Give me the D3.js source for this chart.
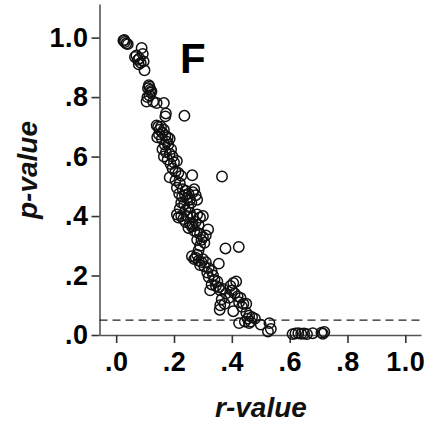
<!DOCTYPE html>
<html>
<head>
<meta charset="utf-8">
<script src="https://cdn.jsdelivr.net/npm/d3@7"></script>
<style>
  html, body { margin: 0; padding: 0; background: #fff; }
  svg { display: block; }
  text { font-family: "Liberation Sans", Arial, sans-serif; }
</style>
</head>
<body>
<svg id="chart" width="445" height="426"></svg>
<script>
// ---- data ----
const rValues = [
  0.025,0.030,0.035,0.040,0.028,
  0.065,0.070,0.075,0.080,0.085,0.088,0.092,0.095,0.098,0.078,
  0.110,0.115,0.118,0.120,0.113,0.122,0.108,0.115,0.105,0.128,0.140,
  0.165,0.172,0.170,0.236,
  0.140,0.145,0.150,0.155,0.148,0.142,0.160,0.165,0.170,0.178,0.175,0.185,0.158,0.168,0.180,0.190,0.185,0.172,0.160,0.165,0.195,0.178,0.188,
  0.200,0.210,0.195,0.205,0.215,0.225,0.185,0.263,0.366,0.205,0.220,0.210,0.230,0.240,0.250,0.218,0.228,0.238,0.245,0.255,0.265,0.270,0.275,0.280,0.225,0.235,0.250,0.260,0.220,0.240,0.210,0.225,0.215,0.232,0.245,0.255,0.265,0.280,0.290,0.300,
  0.240,0.255,0.265,0.250,0.262,0.275,0.285,0.270,0.280,0.290,0.300,0.310,0.318,0.295,0.305,0.280,0.290,0.285,0.280,0.275,0.262,0.270,0.285,0.295,0.300,0.290,0.305,0.310,0.320,0.330,0.315,0.378,0.424,0.355,
  0.320,0.335,0.340,0.350,0.345,0.355,0.330,0.325,0.360,0.370,0.380,0.395,0.405,0.415,0.400,0.410,0.420,0.430,0.425,0.440,0.450,0.435,0.390,0.365,0.360,0.358,0.375,0.405,0.450,0.460,0.455,0.470,0.465,0.480,0.445,0.425,0.460,0.500,0.530,0.535,0.525,
  0.610,0.620,0.630,0.640,0.650,0.660,0.680,0.710,0.715,0.720
];
const pValues = [
  0.990,0.985,0.980,0.978,0.992,
  0.935,0.940,0.925,0.930,0.915,0.965,0.945,0.920,0.890,0.910,
  0.830,0.835,0.825,0.815,0.840,0.820,0.800,0.805,0.785,0.785,0.780,
  0.780,0.745,0.735,0.737,
  0.705,0.700,0.690,0.700,0.675,0.665,0.680,0.690,0.670,0.665,0.650,0.660,0.660,0.640,0.640,0.625,0.610,0.615,0.625,0.600,0.600,0.590,0.575,
  0.580,0.585,0.560,0.550,0.545,0.535,0.530,0.537,0.533,0.520,0.510,0.495,0.490,0.485,0.475,0.475,0.465,0.470,0.460,0.455,0.480,0.490,0.470,0.455,0.445,0.440,0.430,0.445,0.425,0.420,0.405,0.400,0.395,0.390,0.400,0.410,0.395,0.405,0.395,0.400,
  0.380,0.375,0.370,0.360,0.365,0.380,0.370,0.350,0.345,0.340,0.330,0.335,0.355,0.320,0.310,0.320,0.300,0.285,0.270,0.260,0.265,0.255,0.250,0.245,0.255,0.235,0.230,0.245,0.225,0.215,0.210,0.291,0.296,0.240,
  0.195,0.200,0.185,0.180,0.165,0.160,0.170,0.150,0.150,0.155,0.140,0.165,0.175,0.180,0.150,0.140,0.130,0.125,0.110,0.105,0.105,0.095,0.125,0.120,0.100,0.085,0.105,0.080,0.075,0.065,0.055,0.060,0.045,0.055,0.045,0.040,0.040,0.035,0.040,0.020,0.012,
  0.003,0.005,0.006,0.004,0.005,0.003,0.006,0.008,0.004,0.010
];
const xTickValues = [0, 0.2, 0.4, 0.6, 0.8, 1.0];
const yTickValues = [0, 0.2, 0.4, 0.6, 0.8, 1.0];
const xTickLabels = [".0", ".2", ".4", ".6", ".8", "1.0"];
const yTickLabels = [".0", ".2", ".4", ".6", ".8", "1.0"];
const thresholdP = 0.05;
const xTitle = "r-value";
const yTitle = "p-value";
const panelLabel = "F";

// ---- drawing ----
const svg = d3.select("#chart");
const x = d3.scaleLinear().domain([-0.0577, 1.0543]).range([99.5, 421]);
const y = d3.scaleLinear().domain([0, 1.113]).range([335, 4]);

const xAxis = d3.axisBottom(x)
  .tickValues(xTickValues)
  .tickFormat((d, i) => xTickLabels[i])
  .tickSizeInner(8).tickSizeOuter(0).tickPadding(9);
const yAxis = d3.axisLeft(y)
  .tickValues(yTickValues)
  .tickFormat((d, i) => yTickLabels[i])
  .tickSizeInner(8).tickSizeOuter(0).tickPadding(3);

const gx = svg.append("g").attr("transform", `translate(0,${y(0)})`).call(xAxis);
const gy = svg.append("g").attr("transform", `translate(${x.range()[0]},0)`).call(yAxis);

[gx, gy].forEach(g => {
  g.select(".domain").attr("stroke", "#555").attr("stroke-width", 1.6);
  g.selectAll(".tick line").attr("stroke", "#333").attr("stroke-width", 1.6);
  g.selectAll(".tick text")
    .attr("fill", "#000")
    .style("font-size", "27px")
    .style("font-weight", "bold")
    .style("letter-spacing", "0.5px");
});

// threshold line
svg.append("line")
  .attr("x1", x.range()[0]).attr("x2", x.range()[1])
  .attr("y1", y(thresholdP)).attr("y2", y(thresholdP))
  .attr("stroke", "#222").attr("stroke-width", 1.4)
  .attr("stroke-dasharray", "8,5");

// points
const pts = rValues.map((r, i) => ({ r, p: pValues[i] }));
svg.append("g").selectAll("circle").data(pts).join("circle")
  .attr("cx", d => x(d.r))
  .attr("cy", d => y(d.p))
  .attr("r", 5.2)
  .attr("fill", "none")
  .attr("stroke", "#111")
  .attr("stroke-width", 1.5);

// axis titles
svg.append("text")
  .attr("x", 261).attr("y", 417)
  .attr("text-anchor", "middle")
  .style("font-size", "28px").style("font-weight", "bold").style("font-style", "italic")
  .attr("fill", "#111")
  .text(xTitle);

svg.append("text")
  .attr("transform", "translate(37,170) rotate(-90)")
  .attr("text-anchor", "middle")
  .style("font-size", "28px").style("font-weight", "bold").style("font-style", "italic")
  .attr("fill", "#111")
  .text(yTitle);

// panel label
svg.append("text")
  .attr("x", 180).attr("y", 73)
  .style("font-size", "42px").style("font-weight", "bold")
  .attr("fill", "#000")
  .text(panelLabel);
</script>
</body>
</html>
